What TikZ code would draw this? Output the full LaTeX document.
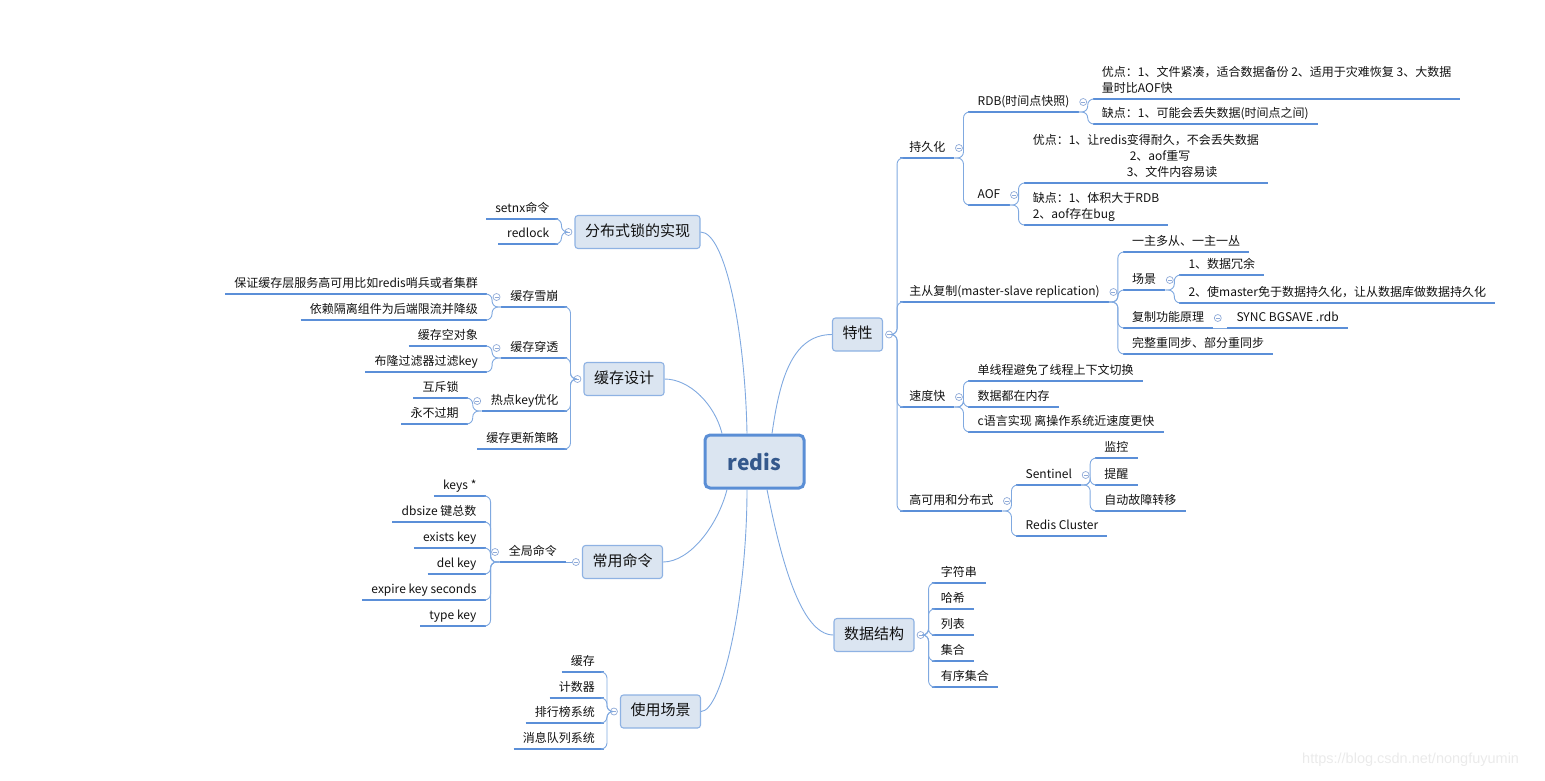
\documentclass[tikz,border=0pt]{standalone}
\usepackage{fontspec}
\newfontfamily\cjk{Noto Sans CJK SC}
\newfontfamily\wmfont{Liberation Sans}
\usetikzlibrary{calc}
\definecolor{ulc}{HTML}{5B8FD8}
\definecolor{cnc}{HTML}{80A9E0}
\definecolor{bxfill}{HTML}{DBE5F1}
\definecolor{bxdraw}{HTML}{8EB2E3}
\definecolor{rootdraw}{HTML}{5A8ED5}
\definecolor{roottext}{HTML}{34588C}
\definecolor{txtc}{HTML}{111111}
\definecolor{collc}{HTML}{8FAAD8}
\definecolor{wmc}{HTML}{EAEAEA}
\tikzset{
  leafbase/.style={font=\cjk\fontsize{12}{16}\selectfont, text=txtc, inner xsep=9pt, inner ysep=3pt,
    append after command={(\tikzlastnode.south west) edge[draw=ulc, line width=2pt] (\tikzlastnode.south east)}},
  rleaf/.style={leafbase, anchor=south west, text height=9pt, text depth=3pt},
  lleaf/.style={leafbase, anchor=south east, text height=9pt, text depth=3pt},
  rmulti/.style={leafbase, anchor=south west, align=left},
  mainbox/.style={font=\cjk\fontsize{15}{18}\selectfont, text=txtc, fill=bxfill, draw=bxdraw, line width=1.1pt, rounded corners=3pt, minimum height=33pt, inner xsep=10pt, text height=11pt, text depth=3pt},
  rootbox/.style={font=\cjk\bfseries\fontsize{21}{24}\selectfont, text=roottext, fill=bxfill, draw=rootdraw, line width=3pt, rounded corners=5pt, minimum width=99pt, minimum height=53pt},
  coll/.style={circle, draw=collc, fill=white, line width=0.7pt, minimum size=7pt, inner sep=0pt,
    path picture={\draw[collc, line width=0.6pt] ([xshift=-2pt]path picture bounding box.center) -- ([xshift=2pt]path picture bounding box.center);}},
  conn/.style={draw=cnc, line width=0.9pt, rounded corners=6pt},
  rconn/.style={draw=cnc, line width=0.9pt},
}
\newcommand{\rsubp}[1]{\node[coll] (#1c) at ($(#1.south east)+(4.5,-10)$) {};\coordinate (#1j) at ($(#1.south east)+(9,0)$);}
\newcommand{\lsubp}[1]{\node[coll] (#1c) at ($(#1.south west)+(-4.5,-10)$) {};\coordinate (#1j) at ($(#1.south west)+(-9,0)$);}
\begin{document}
\begin{tikzpicture}[x=1pt,y=-1pt]
\useasboundingbox (0,0) rectangle (1545,780);
% root and main topics
\node[rootbox] (root) at (754.5,461.5) {redis};
\node[mainbox] (tx) at (857.5,334.5) {特性};
\node[mainbox] (sj) at (874,635) {数据结构};
\node[mainbox] (fbs) at (637.5,232) {分布式锁的实现};
\node[mainbox] (hc) at (624,379) {缓存设计};
\node[mainbox] (cy) at (622.5,562) {常用命令};
\node[mainbox] (sy) at (660.5,711.5) {使用场景};
\draw[rconn] ([xshift=17.5pt]root.north) .. controls (779,385) and (790,334.5) .. (tx.west);
\draw[rconn] ([xshift=12.5pt]root.south) .. controls (780,555) and (800,635) .. (sj.west);
\draw[rconn] ([xshift=-7.5pt]root.south) .. controls (747,600) and (722,711.5) .. (sy.east);
\draw[rconn] ([xshift=-27.5pt]root.south) .. controls (718,525) and (690,562) .. (cy.east);
\draw[rconn] ([xshift=-32.5pt]root.north) .. controls (715,405) and (690,379) .. (hc.east);
\draw[rconn] ([xshift=-7.5pt]root.north) .. controls (745,330) and (725,232) .. (fbs.east);

% ---------- 特性 ----------
\node[coll] (txc) at ($(tx.east)+(6,0)$) {};
\coordinate (txj) at ($(tx.east)+(14,0)$);
\node[rleaf] (cjh) at ($(txj |- 0,158)+(3,0)$) {持久化};
\node[rleaf] (zc) at ($(txj |- 0,302)+(3,0)$) {主从复制(master-slave replication)};
\node[rleaf] (sd) at ($(txj |- 0,407)+(3,0)$) {速度快};
\node[rleaf] (gk) at ($(txj |- 0,511)+(3,0)$) {高可用和分布式};
\foreach \ch in {cjh,zc,sd,gk} \draw[conn] (txc.east) -- (txj) |- (\ch.south west);

\rsubp{cjh}
\node[rleaf] (rdb) at ($(cjhj |- 0,112)+(5,0)$) {RDB(时间点快照)};
\node[rleaf] (aof) at ($(cjhj |- 0,205)+(5,0)$) {AOF};
\foreach \ch in {rdb,aof} \draw[conn] (cjh.south east) -- (cjhj) |- (\ch.south west);

\rsubp{rdb}
\node[rmulti] (rdb1) at ($(rdbj |- 0,99)+(5,0)$) {优点：1、文件紧凑，适合数据备份 2、适用于灾难恢复 3、大数据\\量时比AOF快\rule[-3pt]{0pt}{3pt}};
\node[rleaf] (rdb2) at ($(rdbj |- 0,124)+(5,0)$) {缺点：1、可能会丢失数据(时间点之间)};
\foreach \ch in {rdb1,rdb2} \draw[conn] (rdb.south east) -- (rdbj) |- (\ch.south west);

\rsubp{aof}
\node[rmulti] (aof1) at ($(aofj |- 0,183)+(5,0)$) {优点：1、让redis变得耐久，不会丢失数据\\\hspace*{97pt}2、aof重写\\\hspace*{94pt}3、文件内容易读\rule[-3pt]{0pt}{3pt}};
\node[rmulti] (aof2) at ($(aofj |- 0,225)+(5,0)$) {缺点：1、体积大于RDB\\2、aof存在bug\rule[-3pt]{0pt}{3pt}};
\foreach \ch in {aof1,aof2} \draw[conn] (aof.south east) -- (aofj) |- (\ch.south west);

\rsubp{zc}
\node[rleaf] (zc1) at ($(zcj |- 0,252)+(5,0)$) {一主多从、一主一丛};
\node[rleaf] (cj) at ($(zcj |- 0,290)+(5,0)$) {场景};
\node[rleaf] (fz) at ($(zcj |- 0,328)+(5,0)$) {复制功能原理};
\node[rleaf] (zc4) at ($(zcj |- 0,354)+(5,0)$) {完整重同步、部分重同步};
\foreach \ch in {zc1,cj,fz,zc4} \draw[conn] (zc.south east) -- (zcj) |- (\ch.south west);

\rsubp{cj}
\node[rleaf] (cj1) at ($(cjj |- 0,275)+(5,0)$) {1、数据冗余};
\node[rleaf] (cj2) at ($(cjj |- 0,303)+(5,0)$) {2、使master免于数据持久化，让从数据库做数据持久化};
\foreach \ch in {cj1,cj2} \draw[conn] (cj.south east) -- (cjj) |- (\ch.south west);

\rsubp{fz}
\node[rleaf] (fz1) at ($(fzj |- 0,328)+(5,0)$) {SYNC BGSAVE .rdb};
\draw[conn] (fz.south east) -- (fz1.south west);

\rsubp{sd}
\node[rleaf] (sd1) at ($(sdj |- 0,381)+(5,0)$) {单线程避免了线程上下文切换};
\node[rleaf] (sd2) at ($(sdj |- 0,407)+(5,0)$) {数据都在内存};
\node[rleaf] (sd3) at ($(sdj |- 0,432)+(5,0)$) {c语言实现 离操作系统近速度更快};
\foreach \ch in {sd1,sd2,sd3} \draw[conn] (sd.south east) -- (sdj) |- (\ch.south west);

\rsubp{gk}
\node[rleaf] (st) at ($(gkj |- 0,485)+(5,0)$) {Sentinel};
\node[rleaf] (rc) at ($(gkj |- 0,536)+(5,0)$) {Redis Cluster};
\foreach \ch in {st,rc} \draw[conn] (gk.south east) -- (gkj) |- (\ch.south west);

\rsubp{st}
\node[rleaf] (st1) at ($(stj |- 0,458)+(5,0)$) {监控};
\node[rleaf] (st2) at ($(stj |- 0,485)+(5,0)$) {提醒};
\node[rleaf] (st3) at ($(stj |- 0,511)+(5,0)$) {自动故障转移};
\foreach \ch in {st1,st2,st3} \draw[conn] (st.south east) -- (stj) |- (\ch.south west);

% ---------- 数据结构 ----------
\node[coll] (sjc) at ($(sj.east)+(6,0)$) {};
\coordinate (sjj) at ($(sj.east)+(14,0)$);
\node[rleaf] (sj1) at ($(sjj |- 0,583)+(3,0)$) {字符串};
\node[rleaf] (sj2) at ($(sjj |- 0,609)+(3,0)$) {哈希};
\node[rleaf] (sj3) at ($(sjj)+(3,0)$) {列表};
\node[rleaf] (sj4) at ($(sjj |- 0,661)+(3,0)$) {集合};
\node[rleaf] (sj5) at ($(sjj |- 0,687)+(3,0)$) {有序集合};
\foreach \ch in {sj1,sj2,sj3,sj4,sj5} \draw[conn] (sjc.east) -- (sjj) |- (\ch.south west);

% ---------- 分布式锁的实现 ----------
\node[coll] (fbsc) at ($(fbs.west)+(-6,0)$) {};
\coordinate (fbsj) at ($(fbs.west)+(-13,0)$);
\node[lleaf] (fb1) at ($(fbsj |- 0,219)+(-3,0)$) {setnx命令};
\node[lleaf] (fb2) at ($(fbsj |- 0,244)+(-3,0)$) {redlock};
\foreach \ch in {fb1,fb2} \draw[conn] (fbsc.west) -- (fbsj) |- (\ch.south east);

% ---------- 缓存设计 ----------
\node[coll] (hcc) at ($(hc.west)+(-6,0)$) {};
\coordinate (hcj) at ($(hc.west)+(-13,0)$);
\node[lleaf] (xb) at ($(hcj |- 0,307)+(-3,0)$) {缓存雪崩};
\node[lleaf] (ct) at ($(hcj |- 0,358)+(-3,0)$) {缓存穿透};
\node[lleaf] (rd) at ($(hcj |- 0,411)+(-3,0)$) {热点key优化};
\node[lleaf] (gx) at ($(hcj |- 0,449)+(-3,0)$) {缓存更新策略};
\foreach \ch in {xb,ct,rd,gx} \draw[conn] (hcc.west) -- (hcj) |- (\ch.south east);

\lsubp{xb}
\node[lleaf] (xb1) at ($(xbj |- 0,294)+(-5,0)$) {保证缓存层服务高可用比如redis哨兵或者集群};
\node[lleaf] (xb2) at ($(xbj |- 0,320)+(-5,0)$) {依赖隔离组件为后端限流并降级};
\foreach \ch in {xb1,xb2} \draw[conn] (xb.south west) -- (xbj) |- (\ch.south east);

\lsubp{ct}
\node[lleaf] (ct1) at ($(ctj |- 0,346)+(-5,0)$) {缓存空对象};
\node[lleaf] (ct2) at ($(ctj |- 0,372)+(-5,0)$) {布隆过滤器过滤key};
\foreach \ch in {ct1,ct2} \draw[conn] (ct.south west) -- (ctj) |- (\ch.south east);

\lsubp{rd}
\node[lleaf] (rd1) at ($(rdj |- 0,398)+(-5,0)$) {互斥锁};
\node[lleaf] (rd2) at ($(rdj |- 0,424)+(-5,0)$) {永不过期};
\foreach \ch in {rd1,rd2} \draw[conn] (rd.south west) -- (rdj) |- (\ch.south east);

% ---------- 常用命令 ----------
\node[coll] (cyc) at ($(cy.west)+(-6,0)$) {};
\coordinate (cyj) at ($(cy.west)+(-13,0)$);
\node[lleaf] (qj) at ($(cyj)+(-3,0)$) {全局命令};
\draw[conn] (cyc.west) -- (qj.south east);

\lsubp{qj}
\node[lleaf] (qj1) at ($(qjj |- 0,496)+(-5,0)$) {keys *};
\node[lleaf] (qj2) at ($(qjj |- 0,522)+(-5,0)$) {dbsize 键总数};
\node[lleaf] (qj3) at ($(qjj |- 0,548)+(-5,0)$) {exists key};
\node[lleaf] (qj4) at ($(qjj |- 0,574)+(-5,0)$) {del key};
\node[lleaf] (qj5) at ($(qjj |- 0,600)+(-5,0)$) {expire key seconds};
\node[lleaf] (qj6) at ($(qjj |- 0,626)+(-5,0)$) {type key};
\foreach \ch in {qj1,qj2,qj3,qj4,qj5,qj6} \draw[conn] (qj.south west) -- (qjj) |- (\ch.south east);

% ---------- 使用场景 ----------
\node[coll] (syc) at ($(sy.west)+(-6,0)$) {};
\coordinate (syj) at ($(sy.west)+(-13,0)$);
\node[lleaf] (sy1) at ($(syj |- 0,672)+(-3,0)$) {缓存};
\node[lleaf] (sy2) at ($(syj |- 0,698)+(-3,0)$) {计数器};
\node[lleaf] (sy3) at ($(syj |- 0,723)+(-3,0)$) {排行榜系统};
\node[lleaf] (sy4) at ($(syj |- 0,749)+(-3,0)$) {消息队列系统};
\foreach \ch in {sy1,sy2,sy3,sy4} \draw[conn] (syc.west) -- (syj) |- (\ch.south east);

% watermark
\node[font=\wmfont\fontsize{14.5}{16}\selectfont, text=wmc, anchor=west, inner sep=0pt] (wm) at (1302,760) {https://blog.csdn.net/nongfuyumin};
\end{tikzpicture}
\end{document}
